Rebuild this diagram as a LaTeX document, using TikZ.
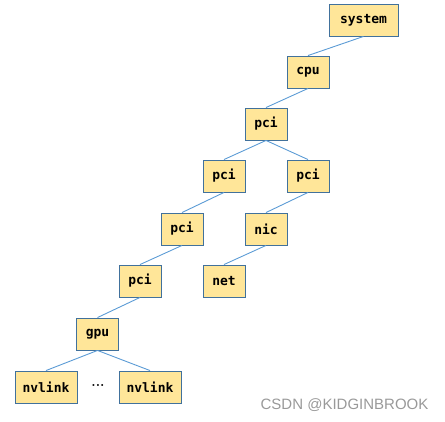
\documentclass[tikz,border=0pt]{standalone}
\usepackage{fontspec}
\setmonofont{DejaVu Sans Mono}
\setsansfont{Liberation Sans}
\usetikzlibrary{positioning}
\definecolor{boxfill}{HTML}{FFE699}
\definecolor{boxline}{HTML}{41719C}
\definecolor{edgeblue}{HTML}{5B9BD5}
\begin{document}
\begin{tikzpicture}[x=1pt,y=-1pt,
    box/.style={draw=boxline,fill=boxfill,line width=0.9pt,minimum width=42pt,minimum height=32pt,inner sep=0pt,font=\ttfamily\bfseries\fontsize{13}{15}\selectfont},
    link/.style={draw=edgeblue,line width=0.9pt}]
          \useasboundingbox (0,0) rectangle (445,422);

          \node[box,minimum width=69pt] (system) at (363.5,20) {system};
          \node[box] (cpu) at (308,72) {cpu};
          \node[box] (pcia) at (266,124) {pci};
          \node[box] (pcib) at (224,176) {pci};
          \node[box] (pcic) at (308,176) {pci};
          \node[box] (pcid) at (182,229) {pci};
          \node[box] (nic) at (266,229) {nic};
          \node[box] (pcie) at (140,281) {pci};
          \node[box] (net) at (224,281) {net};
          \node[box] (gpu) at (97.5,334) {gpu};
          \node[box,minimum width=62pt] (nvlinka) at (46,387) {nvlink};
          \node[box,minimum width=62pt] (nvlinkb) at (150,387) {nvlink};
          \node[font=\bfseries\fontsize{14}{16}\selectfont] (dots) at (98,385) {...};

          \draw[link] (system.south) -- (cpu.north);
          \draw[link] (cpu.south) -- (pcia.north);
          \draw[link] (pcia.south) -- (pcib.north);
          \draw[link] (pcia.south) -- (pcic.north);
          \draw[link] (pcib.south) -- (pcid.north);
          \draw[link] (pcic.south) -- (nic.north);
          \draw[link] (pcid.south) -- (pcie.north);
          \draw[link] (nic.south) -- (net.north);
          \draw[link] (pcie.south) -- (gpu.north);
          \draw[link] (gpu.south) -- (nvlinka.north);
          \draw[link] (gpu.south) -- (nvlinkb.north);

          \node[anchor=center,text=black!40,font=\sffamily\fontsize{15}{17}\selectfont] (mark) at (344.5,405) {CSDN @KIDGINBROOK};
\end{tikzpicture}
\end{document}
